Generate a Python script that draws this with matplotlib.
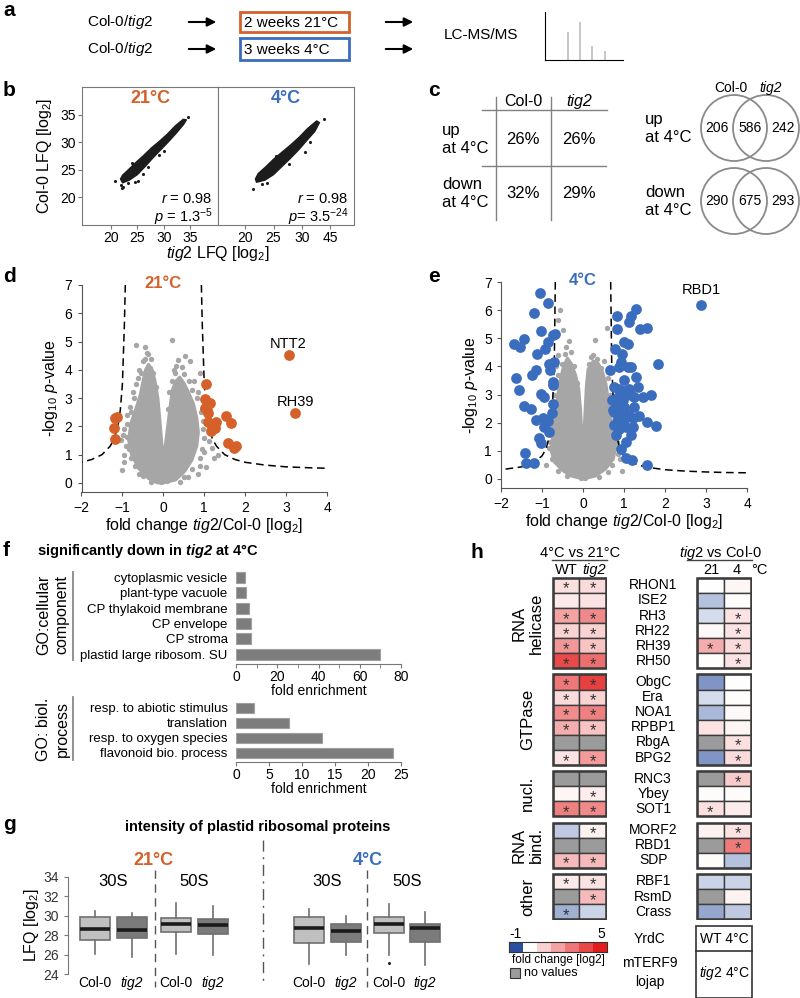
import numpy as np
import matplotlib
matplotlib.use('Agg')
import matplotlib.pyplot as plt
from matplotlib.patches import Rectangle, Circle, Polygon
from matplotlib.colors import LinearSegmentedColormap, TwoSlopeNorm

plt.rcParams['font.family'] = ['Liberation Sans', 'DejaVu Sans']
plt.rcParams['mathtext.fontset'] = 'custom'
plt.rcParams['mathtext.rm'] = 'Liberation Sans'
plt.rcParams['mathtext.it'] = 'Liberation Sans:italic'
plt.rcParams['mathtext.bf'] = 'Liberation Sans:bold'
plt.rcParams['mathtext.bfit'] = 'Liberation Sans:bold:italic'

# ---------------- DATA ----------------
nan = np.nan
# panel a: spectrum sketch
spec_pos = [0.30, 0.45, 0.60, 0.77]
spec_int = [0.58, 0.79, 0.29, 0.19]

# panel b: correlation clouds (outline of dense cloud + outliers)
b21_cloud_x = [22.2, 23.5, 25.0, 26.5, 28.0, 29.5, 31.0, 32.5, 33.8, 34.3,
               33.7, 32.2, 30.7, 29.2, 27.7, 26.2, 24.7, 23.2, 22.2, 21.8]
b21_cloud_y = [22.6, 23.1, 24.1, 25.6, 27.2, 28.7, 30.2, 31.8, 33.3, 34.1,
               34.2, 33.0, 31.5, 30.2, 29.0, 27.6, 26.3, 24.9, 24.0, 23.3]
b21_out_x = [20.8, 22.0, 22.3, 21.9, 24.6, 26.0, 29.2, 34.6, 25.2, 23.2, 27.0, 30.0, 24.0]
b21_out_y = [22.9, 21.6, 21.9, 22.2, 22.8, 24.2, 27.6, 34.6, 23.0, 22.6, 25.5, 28.5, 26.3]
b4_cloud_x = [22.0, 23.5, 25.0, 26.5, 28.0, 29.5, 31.0, 32.3, 33.1,
              32.6, 31.0, 29.5, 28.0, 26.5, 25.0, 23.5, 22.3, 21.8]
b4_cloud_y = [22.7, 23.1, 24.1, 25.6, 27.1, 28.7, 30.5, 32.0, 33.6,
              33.9, 32.5, 30.9, 29.5, 28.2, 26.9, 25.4, 24.3, 23.3]
b4_out_x = [21.3, 30.6, 33.9, 22.4, 23.8, 27.8, 29.5, 22.9, 25.5, 31.5]
b4_out_y = [21.4, 28.3, 34.3, 23.6, 22.5, 26.0, 30.8, 22.3, 27.5, 30.0]

# panel c
c_rows = ['up\nat 4°C', 'down\nat 4°C']
c_col0 = ['26%', '32%']
c_tig2 = ['26%', '29%']
venn_up = [206, 586, 242]
venn_down = [290, 675, 293]

# panel d (21 °C volcano)
d_cloud_x = [0.0, 0.3, 0.52, 0.7, 0.82, 0.86, 0.82, 0.74, 0.62, 0.52, 0.4, 0.3, 0.22, 0.17,
             0.12, 0.06, 0.01, -0.04, -0.08, -0.13, -0.2, -0.27, -0.36, -0.44, -0.5, -0.57,
             -0.68, -0.8, -0.85, -0.78, -0.6, -0.36, -0.15]
d_cloud_y = [0.0, 0.1, 0.4, 0.8, 1.3, 1.8, 2.3, 2.8, 3.2, 3.5, 3.75, 3.6, 3.3, 2.8,
             2.2, 1.5, 0.8, 1.5, 2.2, 3.0, 3.6, 4.0, 4.2, 4.0, 3.6, 3.1,
             2.6, 2.1, 1.5, 1.0, 0.5, 0.15, 0.0]
d_grey_x = [-0.66, -0.44, -0.40, -0.45, -0.33, -0.62, -0.55, 0.20, 0.54, 0.66, 0.37, 0.45,
            0.28, 0.90, 0.75, 0.85, 0.95, 0.98, 1.12, 1.20, 1.33, 1.25, 1.00, 0.90, 0.85,
            -0.97, -1.03, -0.88, -0.95, -0.85, -0.90, -0.80, -0.72, -0.20, 0.50, -0.50, 1.05,
            -0.95, -0.92, -0.98, -0.90, -0.82, -0.75, -0.68, -0.60, -0.50, -0.38, -0.30, -0.25,
            -0.18, -0.70, -0.60, -0.80, -1.00, 0.25, 0.32, 0.50, 0.62, 0.70, 0.82, 0.93, 0.97,
            1.00, 0.95, 0.90, 0.70, 0.60, 0.12, 0.15, 0.20, -0.10, -0.05, 0.08, 0.40, -0.30]
d_grey_y = [4.88, 4.82, 4.60, 4.40, 4.05, 3.70, 3.90, 5.05, 4.49, 4.32, 4.35, 4.10,
            3.90, 3.90, 3.60, 3.20, 2.60, 2.20, 1.50, 1.25, 1.00, 0.90, 1.10, 0.60, 0.30,
            1.90, 1.52, 1.64, 0.75, 1.20, 2.10, 2.50, 3.00, 3.20, 0.20, 0.25, 0.55,
            1.00, 1.30, 1.70, 2.40, 2.70, 3.20, 3.50, 4.00, 4.30, 4.55, 4.40, 3.90,
            3.40, 0.60, 0.30, 0.90, 0.45, 4.00, 4.15, 3.85, 3.60, 3.30, 3.00, 2.50, 1.90,
            1.60, 1.20, 0.90, 0.50, 0.20, 2.60, 3.20, 3.60, 0.10, 0.05, 0.08, 0.05, 0.05]
d_sig_x = [3.06, 3.21, 1.05, 1.01, 1.14, 1.02, 1.07, 1.10, 1.52, 1.66, 1.08, 1.29, 1.23,
           1.16, 1.27, 1.57, 1.73, 1.78, -1.17, -1.13, -1.21, -1.19]
d_sig_y = [4.52, 2.49, 3.50, 2.96, 2.84, 2.64, 2.57, 2.46, 2.37, 2.13, 2.17, 2.17, 2.00,
           1.85, 1.93, 1.40, 1.23, 1.29, 2.29, 2.32, 1.93, 1.54]
d_curve_r_x = [0.93, 0.95, 1.0, 1.05, 1.1, 1.2, 1.3, 1.5, 1.75, 2.0, 2.5, 3.0, 3.5, 4.0]
d_curve_r_y = [7.0, 5.7, 3.5, 2.6, 2.1, 1.55, 1.3, 1.0, 0.83, 0.73, 0.63, 0.57, 0.54, 0.52]
d_curve_l_x = [-0.93, -0.95, -1.0, -1.05, -1.1, -1.2, -1.3, -1.5, -1.75, -2.0]
d_curve_l_y = [7.0, 5.7, 3.5, 2.6, 2.1, 1.55, 1.3, 1.0, 0.83, 0.73]

# panel e (4 °C volcano)
e_cloud_x = [0.0, 0.3, 0.55, 0.74, 0.8, 0.76, 0.68, 0.62, 0.56, 0.48, 0.38, 0.25, 0.12, 0.08,
             0.05, 0.03, 0.0, -0.03, -0.06, -0.1, -0.18, -0.28, -0.38, -0.48, -0.56, -0.62,
             -0.68, -0.74, -0.78, -0.7, -0.5, -0.28]
e_cloud_y = [0.0, 0.1, 0.35, 0.7, 1.1, 1.6, 2.2, 2.8, 3.4, 3.8, 4.1, 4.2, 3.9, 3.3,
             2.5, 1.8, 1.0, 1.8, 2.5, 3.2, 3.7, 4.1, 4.3, 4.0, 3.5, 3.0,
             2.3, 1.6, 1.0, 0.6, 0.3, 0.1]
e_grey_x = [-0.55, -0.61, -0.50, -0.35, -0.42, 0.58, 0.30, 0.25, 0.50, -0.60, -0.70, -0.72,
            -0.80, 0.72, 0.80, 0.90, -0.90, 0.95, -0.70, 0.62, -0.65, 0.55,
            -0.82, -0.78, -0.74, -0.68, -0.60, -0.52, -0.45, -0.30, -0.22, -0.15, 0.15, 0.20,
            0.35, 0.45, 0.60, 0.66, 0.72, 0.78, 0.84, 0.86, 0.70, 0.60, -0.60, -0.75, 0.10,
            -0.10, 0.40, -0.40, 0.05, -0.05]
e_grey_y = [6.02, 5.64, 5.30, 4.90, 4.70, 5.36, 4.93, 4.40, 4.20, 4.40, 3.00, 2.00,
            1.30, 1.50, 1.20, 0.70, 0.50, 0.30, 0.80, 3.80, 4.00, 0.90,
            1.10, 1.80, 2.50, 3.30, 3.70, 4.10, 4.45, 4.50, 4.00, 3.40, 4.10, 4.35,
            4.25, 3.95, 3.60, 3.00, 2.40, 1.90, 1.30, 0.90, 0.50, 0.25, 0.30, 0.70, 0.15,
            0.10, 0.08, 0.12, 0.02, 0.03]
e_sig_x = [2.88, -1.04, -0.86, -1.19, -1.69, -1.53, -1.43, -1.02, -0.86, -0.74, -0.69, -0.93,
           -1.12, -1.63, -1.55, -1.25, -1.14, -0.82, -0.70, -0.80, -0.74, -0.72, -1.02, -0.96,
           -1.43, -1.27, -0.74, -0.76, -1.14, -0.98, -0.86, -0.96, -0.82, -1.07, -1.02, -1.41,
           -1.38, -1.19,
           1.29, 1.17, 0.83, 1.11, 0.83, 1.40, 1.56, 1.00, 1.09, 0.79, 0.95, 1.84, 0.93, 0.67,
           0.89, 1.09, 1.17, 1.00, 1.29, 0.75, 0.89, 1.01, 1.17, 1.47, 1.66, 0.71, 0.80, 0.97,
           1.25, 0.75, 0.92, 1.21, 1.37, 1.56, 1.78, 0.75, 0.89, 1.04, 1.21, 0.80, 1.17, 1.04,
           0.93, 1.20, 1.04, 1.57, 0.73, 0.92, 0.85, 1.00, 0.99, 0.85, 1.09, 1.11, 1.25, 1.33]
e_sig_y = [6.17, 6.62, 6.25, 5.90, 4.79, 4.69, 4.98, 5.26, 4.87, 5.10, 5.16, 4.63,
           4.43, 3.60, 3.15, 3.69, 3.87, 4.10, 4.16, 3.87, 3.45, 3.33, 3.01, 2.92,
           2.59, 2.47, 2.68, 2.34, 2.09, 2.15, 2.07, 1.85, 1.67, 1.44, 1.27, 0.91,
           0.58, 0.58,
           6.05, 5.78, 5.78, 5.58, 5.34, 5.34, 5.38, 4.87, 4.81, 4.63, 4.43, 4.10, 4.16, 3.87,
           3.99, 3.99, 3.99, 3.51, 3.63, 3.27, 3.21, 3.13, 2.97, 2.91, 2.97, 2.80, 2.68, 2.80,
           2.56, 2.38, 2.26, 2.15, 2.23, 2.03, 1.87, 1.91, 1.76, 1.86, 1.86, 1.55, 1.55, 1.32,
           1.08, 0.67, 0.73, 0.48, 2.44, 2.56, 2.92, 2.56, 2.09, 2.09, 2.32, 3.21, 2.92, 3.28]
e_curve_r_x = [0.675, 0.7, 0.75, 0.8, 0.9, 1.0, 1.2, 1.5, 2.0, 2.5, 3.0, 3.5, 4.0]
e_curve_r_y = [7.0, 4.15, 2.35, 1.65, 1.07, 0.82, 0.58, 0.43, 0.33, 0.28, 0.25, 0.23, 0.22]
e_curve_l_x = [-0.675, -0.7, -0.75, -0.8, -0.9, -1.0, -1.2, -1.5, -2.0]
e_curve_l_y = [7.0, 4.15, 2.35, 1.65, 1.07, 0.82, 0.58, 0.43, 0.33]

# panel f
f_cc_terms = ['cytoplasmic vesicle', 'plant-type vacuole', 'CP thylakoid membrane',
              'CP envelope', 'CP stroma', 'plastid large ribosom. SU']
f_cc_values = [4.5, 4.8, 6.1, 7.4, 7.4, 69.9]
f_bp_terms = ['resp. to abiotic stimulus', 'translation', 'resp. to oxygen species',
              'flavonoid bio. process']
f_bp_values = [2.8, 8.1, 13.1, 23.8]

# panel g boxplots: 21C 30S Col/tig2, 21C 50S Col/tig2, 4C 30S Col/tig2, 4C 50S Col/tig2
g_whislo = [26.06, 25.8, 26.06, 26.0, 25.0, 26.0, 25.96, 24.93]
g_q1 = [27.5, 27.68, 28.3, 28.1, 27.16, 27.27, 28.2, 27.33]
g_med = [28.64, 28.53, 29.2, 29.05, 28.78, 28.47, 29.2, 28.74]
g_q3 = [29.85, 29.85, 29.8, 29.67, 29.85, 29.2, 29.85, 29.2]
g_whishi = [30.5, 30.25, 31.3, 31.0, 30.67, 30.0, 31.2, 30.4]
g_fliers = [[], [], [], [], [], [], [25.17], []]
g_geno = ['Col-0', 'tig2', 'Col-0', 'tig2', 'Col-0', 'tig2', 'Col-0', 'tig2']

# panel h heatmap
h_genes = ['RHON1', 'ISE2', 'RH3', 'RH22', 'RH39', 'RH50', 'ObgC', 'Era', 'NOA1', 'RPBP1',
           'RbgA', 'BPG2', 'RNC3', 'Ybey', 'SOT1', 'MORF2', 'RBD1', 'SDP', 'RBF1', 'RsmD',
           'Crass']
h_groups = ['RNA\nhelicase', 'GTPase', 'nucl.', 'RNA\nbind.', 'other']
h_group_sizes = [6, 6, 3, 3, 3]
h_wt_cold = [0.7, 0.5, 2.0, 1.0, 2.3, 4.0, 3.0, 0.8, 2.5, 1.8, nan, 0.6, nan, 0.2, 2.8,
             -0.3, nan, 1.5, 0.5, nan, -0.45]
h_tig2_cold = [0.8, 0.6, 2.6, 1.0, 1.3, 3.2, 4.2, 1.0, 2.8, 1.3, nan, 2.2, nan, 0.4, 2.6,
               0.3, nan, 1.5, 0.6, 1.5, -0.25]
h_wt_star = [1, 0, 1, 1, 1, 1, 1, 1, 1, 1, 0, 1, 0, 0, 1, 0, 0, 1, 1, 0, 1]
h_tig2_star = [1, 0, 1, 1, 1, 1, 1, 1, 1, 1, 0, 1, 0, 1, 1, 1, 0, 1, 1, 1, 0]
h_diff21 = [0.0, -0.35, -0.2, 0.15, 1.8, 0.05, -0.6, -0.2, -0.4, 0.6, nan, -0.6, nan, 0.1,
            0.7, 0.3, nan, 0.1, -0.25, nan, -0.5]
h_diff4 = [0.2, 0.05, 0.6, 0.6, 0.8, 0.6, 0.0, 0.05, 0.15, 0.2, 0.7, 0.8, 1.1, 0.1, 0.4,
           0.6, 2.9, -0.35, -0.25, 0.3, -0.3]
h_diff21_star = [0, 0, 0, 0, 1, 0, 0, 0, 0, 0, 0, 0, 0, 0, 1, 0, 0, 0, 0, 0, 0]
h_diff4_star = [0, 0, 1, 1, 1, 1, 0, 0, 0, 0, 1, 1, 1, 0, 0, 1, 1, 0, 0, 0, 0]
h_extra = ['YrdC', 'mTERF9', 'lojap']
cb_values = [-1, 0, 1, 2, 3, 4, 5]

# ---------------- STYLE ----------------
ORANGE = '#d5602a'
BLUE = '#3b6dbf'
GREYPT = '#a6a6a6'
AXGREY = '#7a7a7a'
W, H = 800, 998
fig = plt.figure(figsize=(8, 9.98), dpi=100)


def add_ax(x0, y0, x1, y1, **kw):
    return fig.add_axes([x0 / W, 1 - y1 / H, (x1 - x0) / W, (y1 - y0) / H], **kw)


ov = fig.add_axes([0, 0, 1, 1], zorder=10)
ov.set_xlim(0, W)
ov.set_ylim(H, 0)
ov.axis('off')


def letter(x, y, s):
    ov.text(x, y, s, fontsize=15, fontweight='bold', va='center', ha='left')


# ---------------- a ----------------
letter(3, 10, 'a')
for yy in (22, 49):
    ov.text(87, yy, r'Col-0/$\it{tig2}$', fontsize=11, va='center')
    for xa, xb in ((186, 219), (383, 416)):
        ov.annotate('', xy=(xb, yy), xytext=(xa, yy),
                    arrowprops=dict(arrowstyle='-|>', lw=1.5, color='k', mutation_scale=13))
ov.add_patch(Rectangle((240, 12), 109, 20, fill=False, ec=ORANGE, lw=2))
ov.text(244, 22.5, '2 weeks 21°C', fontsize=11, va='center')
ov.add_patch(Rectangle((240, 38), 109, 22, fill=False, ec=BLUE, lw=2))
ov.text(244, 49.5, '3 weeks 4°C', fontsize=11, va='center')
ov.text(444, 35, 'LC-MS/MS', fontsize=11, va='center')
axs = add_ax(545, 12, 623, 60)
axs.vlines(spec_pos, 0, spec_int, color='#bdbdbd', lw=1.2)
axs.set_xlim(0, 1)
axs.set_ylim(0, 1)
axs.set_xticks([])
axs.set_yticks([])
for s in ('top', 'right'):
    axs.spines[s].set_visible(False)

# ---------------- b ----------------
letter(3, 90, 'b')
axb1 = add_ax(82, 87, 218, 225)
axb2 = add_ax(218, 87, 354, 225)
for ax, cx, cy, ox, oy, title, col, ptxt, xl in (
        (axb1, b21_cloud_x, b21_cloud_y, b21_out_x, b21_out_y, '21°C', ORANGE,
         r'$\it{p}$ = 1.3$^{-5}$', (14.5, 40.3)),
        (axb2, b4_cloud_x, b4_cloud_y, b4_out_x, b4_out_y, '4°C', BLUE,
         r'$\it{p}$= 3.5$^{-24}$', (15.2, 39.2))):
    ax.add_patch(Polygon(np.column_stack([cx, cy]), closed=True, fc='#1c1c1c', ec='#1c1c1c',
                         lw=1.0, joinstyle='round'))
    ax.scatter(ox, oy, s=5, color='#1c1c1c', lw=0)
    ax.set_xlim(*xl)
    ax.set_ylim(14.9, 40.1)
    ax.set_xticks([20, 25, 30, 35])
    for s in ax.spines.values():
        s.set_color(AXGREY)
    ax.tick_params(direction='out', length=3, color=AXGREY, labelsize=10, pad=1.5)
    ax.text(0.5, 0.92, title, transform=ax.transAxes, ha='center', va='center', color=col,
            fontsize=13, fontweight='bold')
    ax.text(0.96, 0.19, r'$\it{r}$ = 0.98', transform=ax.transAxes, ha='right', va='center',
            fontsize=10.5)
    ax.text(0.96, 0.06, ptxt, transform=ax.transAxes, ha='right', va='center', fontsize=10.5)
axb1.set_yticks([20, 25, 30, 35])
axb2.set_yticks([])
axb2.set_xticklabels(['20', '25', '30', '45'])
ov.text(218, 253, r'$\it{tig2}$ LFQ [log$_2$]', fontsize=11.5, ha='center', va='center')
ov.text(45, 156, r'Col-0 LFQ [log$_2$]', fontsize=11.5, ha='center', va='center', rotation=90)

# ---------------- c ----------------
letter(428, 90, 'c')
lc = '#808080'
ov.plot([496, 496], [97, 220], color=lc, lw=1)
ov.plot([551, 551], [97, 220], color=lc, lw=1)
ov.plot([482, 607], [110, 110], color=lc, lw=1)
ov.plot([482, 606], [166, 166], color=lc, lw=1)
ov.text(523, 101, 'Col-0', fontsize=11.5, ha='center', va='center')
ov.text(579, 101, 'tig2', fontsize=11.5, ha='center', va='center', style='italic')
for i, yy in enumerate((139, 193)):
    ov.text(442, yy, c_rows[i], fontsize=12, ha='left', va='center', linespacing=1.25)
    ov.text(523, yy, c_col0[i], fontsize=12, ha='center', va='center')
    ov.text(579, yy, c_tig2[i], fontsize=12, ha='center', va='center')
for i, (yy, vals) in enumerate(((128, venn_up), (201, venn_down))):
    ov.add_patch(Circle((734, yy), 33, fill=False, ec='#8a8a8a', lw=1.3))
    ov.add_patch(Circle((766, yy), 33, fill=False, ec='#8a8a8a', lw=1.3))
    for xx, v in zip((717, 750, 783), vals):
        ov.text(xx, yy, str(v), fontsize=10, ha='center', va='center')
    ov.text(645, yy, c_rows[i], fontsize=12, ha='left', va='center', linespacing=1.25)
ov.text(731, 88, 'Col-0', fontsize=10, ha='center', va='center')
ov.text(771, 88, 'tig2', fontsize=10, ha='center', va='center', style='italic')


# ---------------- d, e ----------------
def volcano(ax, cx, cy, gx, gy, sx, sy, crx, cry, clx, cly, col):
    ax.add_patch(Polygon(np.column_stack([cx, cy]), closed=True, fc=GREYPT, ec=GREYPT, lw=2,
                         joinstyle='round', zorder=1))
    ax.scatter(gx, gy, s=15, color=GREYPT, lw=0, zorder=2)
    ax.plot(crx, cry, color='k', lw=1.1, ls=(0, (5, 3)), zorder=3)
    ax.plot(clx, cly, color='k', lw=1.1, ls=(0, (5, 3)), zorder=3)
    ax.scatter(sx, sy, s=60, color=col, lw=0, zorder=4)
    ax.set_xlim(-2, 4)
    ax.set_ylim(-0.32, 7)
    ax.set_xticks([-2, -1, 0, 1, 2, 3, 4])
    ax.set_yticks(range(8))
    for s in ('top', 'right'):
        ax.spines[s].set_visible(False)
    for s in ('left', 'bottom'):
        ax.spines[s].set_color('#555555')
    ax.tick_params(direction='out', length=3, color='#555555', labelsize=10)
    ax.set_xlabel(r'fold change $\it{tig2}$/Col-0 [log$_2$]', fontsize=11.5, labelpad=1)
    ax.set_ylabel(r'-log$_{10}$ $\it{p}$-value', fontsize=11.5, labelpad=3)


letter(3, 277, 'd')
axd = add_ax(81.5, 285, 327, 492)
volcano(axd, d_cloud_x, d_cloud_y, d_grey_x, d_grey_y, d_sig_x, d_sig_y,
        d_curve_r_x, d_curve_r_y, d_curve_l_x, d_curve_l_y, ORANGE)
axd.text(0, 7.05, '21°C', color=ORANGE, fontsize=12, fontweight='bold', ha='center', va='center')
axd.text(3.06, 4.91, 'NTT2', fontsize=10.5, ha='center', va='center')
axd.text(3.24, 2.87, 'RH39', fontsize=10.5, ha='center', va='center')

letter(428, 277, 'e')
axe = add_ax(501, 282, 747, 488)
volcano(axe, e_cloud_x, e_cloud_y, e_grey_x, e_grey_y, e_sig_x, e_sig_y,
        e_curve_r_x, e_curve_r_y, e_curve_l_x, e_curve_l_y, BLUE)
axe.text(0, 7.05, '4°C', color=BLUE, fontsize=12, fontweight='bold', ha='center', va='center')
axe.text(2.88, 6.7, 'RBD1', fontsize=10.5, ha='center', va='center')

# ---------------- f ----------------
letter(3, 551, 'f')
ov.text(37, 551, r'significantly down in $\mathbfit{tig2}$ at 4°C', fontsize=10.5,
        fontweight='bold', va='center')
axf1 = add_ax(236, 570, 401, 664)
axf2 = add_ax(236, 700, 401, 762)
for ax, terms, vals, lim, ticks, minor in (
        (axf1, f_cc_terms, f_cc_values, (5.65, -0.5), [0, 20, 40, 60, 80], [10, 30, 50, 70]),
        (axf2, f_bp_terms, f_bp_values, (3.6, -0.53), [0, 5, 10, 15, 20, 25], [])):
    ax.barh(range(len(vals)), vals, height=0.72, color='#7d7d7d', edgecolor='#a0a0a0', lw=0.8)
    ax.set_ylim(*lim)
    ax.set_xlim(0, ticks[-1])
    ax.set_yticks(range(len(vals)))
    ax.set_yticklabels(terms, fontsize=9.5)
    ax.set_xticks(ticks)
    ax.set_xticks(minor, minor=True)
    for s in ('top', 'right', 'left'):
        ax.spines[s].set_visible(False)
    ax.spines['bottom'].set_color('#777777')
    ax.tick_params(axis='y', length=0, pad=6)
    ax.tick_params(axis='x', which='both', direction='out', length=3, color='#777777',
                   labelsize=10, pad=1)
    ax.set_xlabel('fold enrichment', fontsize=10, labelpad=0)
ov.plot([73, 73], [572, 660], color='#888888', lw=1.3)
ov.plot([73, 73], [697, 760], color='#888888', lw=1.3)
ov.text(53, 615, 'GO:cellular\ncomponent', rotation=90, fontsize=11.5, ha='center',
        va='center', linespacing=1.3)
ov.text(53, 729, 'GO: biol.\nprocess', rotation=90, fontsize=11.5, ha='center', va='center',
        linespacing=1.3)

# ---------------- g ----------------
letter(3, 825, 'g')
ov.text(258, 827, 'intensity of plastid ribosomal proteins', fontsize=10.5,
        fontweight='bold', ha='center', va='center')
axg = add_ax(68, 877, 450, 974)
g_pos = [27, 63.5, 108, 144.5, 241, 278, 321, 356.5]
stats = []
for i in range(8):
    stats.append(dict(whislo=g_whislo[i], q1=g_q1[i], med=g_med[i], q3=g_q3[i],
                      whishi=g_whishi[i], fliers=g_fliers[i]))
bp = axg.bxp(stats, positions=g_pos, widths=30, patch_artist=True, showcaps=False,
             boxprops=dict(edgecolor='#707070', lw=1.2),
             whiskerprops=dict(color='#707070', lw=1.2),
             medianprops=dict(color='#1a1a1a', lw=2.6),
             flierprops=dict(marker='o', markersize=2.2, markerfacecolor='#222222',
                             markeredgecolor='none'))
for i, b in enumerate(bp['boxes']):
    b.set_facecolor('#c0c0c0' if i % 2 == 0 else '#7b7b7b')
axg.set_xlim(0, 382)
axg.set_ylim(24, 34)
axg.set_yticks([24, 26, 28, 30, 32, 34])
axg.set_xticks([])
for s in ('top', 'right', 'bottom'):
    axg.spines[s].set_visible(False)
axg.spines['left'].set_color('#777777')
axg.tick_params(axis='y', direction='out', length=3, color='#777777', labelsize=10,
                labelcolor='#333333')
axg.set_ylabel(r'LFQ [log$_2$]', fontsize=11.5, labelpad=2)
for i in range(8):
    axg.text(g_pos[i], 23.05, g_geno[i], ha='center', va='center', fontsize=10,
             style='italic' if g_geno[i] == 'tig2' else 'normal', clip_on=False)
for k in range(4):
    axg.text((g_pos[2 * k] + g_pos[2 * k + 1]) / 2, 33.5, ['30S', '50S'][k % 2], ha='center',
             va='center', fontsize=12, clip_on=False)
axg.text(85, 35.75, '21°C', color=ORANGE, fontsize=13, fontweight='bold', ha='center',
         va='center', clip_on=False)
axg.text(300, 35.75, '4°C', color=BLUE, fontsize=13, fontweight='bold', ha='center',
         va='center', clip_on=False)
ov.plot([155, 155], [870, 987], color='#555555', lw=1, ls=(0, (6, 4)))
ov.plot([367, 367], [870, 987], color='#555555', lw=1, ls=(0, (6, 4)))
ov.plot([263, 263], [840, 982], color='#555555', lw=1, ls=(0, (8, 4, 1.5, 4)))

# ---------------- h ----------------
letter(470, 552, 'h')
cmap = LinearSegmentedColormap.from_list('bwr2', ['#2b4f9e', '#ffffff', '#e31c1c'])
norm = TwoSlopeNorm(vmin=-1, vcenter=0, vmax=5)
NANC = '#9b9b9b'
row_pos = []
yy = 0.0
group_bounds = []
for size in h_group_sizes:
    start = yy
    for k in range(size):
        row_pos.append(yy)
        yy += 1
    group_bounds.append((start, yy))
    yy += 0.4
total = yy - 0.4

axh1 = add_ax(552, 577, 607, 920)
axh2 = add_ax(696, 577, 752, 920)
for ax, c1, c2, s1, s2 in ((axh1, h_wt_cold, h_tig2_cold, h_wt_star, h_tig2_star),
                           (axh2, h_diff21, h_diff4, h_diff21_star, h_diff4_star)):
    for col, vals, stars in ((0, c1, s1), (1, c2, s2)):
        for r, v in enumerate(vals):
            fc = NANC if np.isnan(v) else cmap(norm(v))
            ax.add_patch(Rectangle((col, row_pos[r]), 1, 1, fc=fc, ec='#3c3c3c', lw=1.0))
            if stars[r]:
                ax.text(col + 0.5, row_pos[r] + 0.74, '*', ha='center', va='center',
                        fontsize=12, color='#333333')
    for (a, b) in group_bounds:
        ax.add_patch(Rectangle((0, a), 2, b - a, fill=False, ec='#3c3c3c', lw=1.8))
    ax.set_xlim(-0.03, 2.03)
    ax.set_ylim(total + 0.05, -0.05)
    ax.axis('off')
ytr = axh1.get_yaxis_transform()
for r, g in enumerate(h_genes):
    axh1.text(1.84, row_pos[r] + 0.5, g, transform=ytr, ha='center', va='center', fontsize=10)
for g, (a, b) in zip(h_groups, group_bounds):
    axh1.text(-0.44, (a + b) / 2, g, transform=ytr, rotation=90, ha='center', va='center',
              fontsize=12, linespacing=1.2, multialignment='center')
# headers
ov.text(580, 553, '4°C vs 21°C', fontsize=10.5, ha='center', va='center')
ov.plot([552, 607], [560, 560], color='#444444', lw=1)
ov.text(566, 570, 'WT', fontsize=10.5, ha='center', va='center')
ov.text(594, 570, 'tig2', fontsize=10.5, ha='center', va='center', style='italic')
ov.text(720, 553, r'$\it{tig2}$ vs Col-0', fontsize=10.5, ha='center', va='center')
ov.plot([687, 752], [560, 560], color='#444444', lw=1)
ov.text(711, 570, '21', fontsize=10.5, ha='center', va='center')
ov.text(737, 570, '4', fontsize=10.5, ha='center', va='center')
ov.text(759, 570, '°C', fontsize=10.5, ha='center', va='center')
for name, yv in zip(h_extra, (939, 963, 982)):
    ov.text(650, yv, name, fontsize=10, ha='center', va='center')
ov.add_patch(Rectangle((696, 926), 56, 72, fill=False, ec='#333333', lw=1.2))
ov.plot([696, 752], [951, 951], color='#333333', lw=1.2)
ov.text(724, 939, 'WT 4°C', fontsize=10, ha='center', va='center')
ov.text(724, 973, r'$\it{tig2}$ 4°C', fontsize=10, ha='center', va='center')
# colorbar
axcb = add_ax(509, 942, 607, 952)
axcb.imshow([cb_values], cmap=cmap, norm=norm, aspect='auto', extent=(0, 7, 0, 1))
axcb.set_xticks([])
axcb.set_yticks([])
for s in axcb.spines.values():
    s.set_color('#333333')
ov.text(515, 934, '-1', fontsize=10, ha='center', va='center')
ov.text(601, 934, '5', fontsize=10, ha='center', va='center')
ov.text(558, 960, 'fold change [log2]', fontsize=8.5, ha='center', va='center')
ov.add_patch(Rectangle((510, 968), 10, 10, fc=NANC, ec='#333333', lw=0.8))
ov.text(524, 973, 'no values', fontsize=9, ha='left', va='center')

fig.savefig('out.png', dpi=100)
